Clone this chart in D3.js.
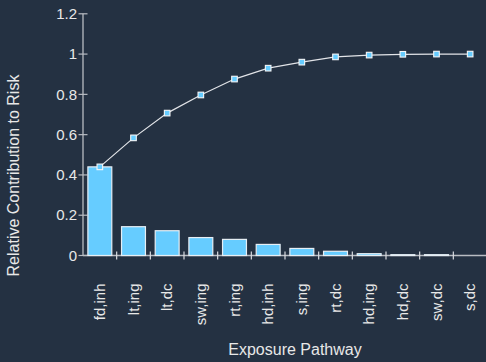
<!DOCTYPE html>
<html>
<head>
<meta charset="utf-8">
<script src="https://cdn.jsdelivr.net/npm/d3@7"></script>
<style>
  html, body { margin: 0; padding: 0; background: #243142; }
  svg { display: block; }
  text { font-family: "Liberation Sans", Arial, sans-serif; fill: #e8e8e8; }
</style>
</head>
<body>
<svg id="chart" width="486" height="362"></svg>
<script>
// Exposure pathways, ordered by contribution
const pathways = ["fd,inh", "lt,ing", "lt,dc", "sw,ing", "rt,ing", "hd,inh", "s,ing", "rt,dc", "hd,ing", "hd,dc", "sw,dc", "s,dc"];
// Relative contribution of each pathway
const contribution = [0.440, 0.143, 0.123, 0.089, 0.080, 0.055, 0.035, 0.021, 0.009, 0.004, 0.004, 0.000];
// Cumulative contribution
const cumulative = [0.440, 0.584, 0.707, 0.797, 0.876, 0.930, 0.960, 0.986, 0.995, 0.999, 1.000, 1.000];
// Y axis ticks
const yTicks = [0, 0.2, 0.4, 0.6, 0.8, 1, 1.2];

const svg = d3.select("#chart");
const axisColor = "#b8bcc2";
const barFill = "#66ccff";

const x = d3.scaleBand().domain(pathways).range([83, 487]).paddingInner(0.29).paddingOuter(0.145);
const y = d3.scaleLinear().domain([0, 1.2]).range([255.5, 13.8]);

// Y axis
const yAxis = svg.append("g").attr("transform", "translate(83,0)");
yAxis.append("line").attr("x1", 0).attr("x2", 0)
  .attr("y1", y(1.2)).attr("y2", y(0)).attr("stroke", axisColor).attr("stroke-width", 1.3);
yAxis.selectAll(".ytick").data(yTicks).join("line")
  .attr("x1", -4.5).attr("x2", 4.5)
  .attr("y1", d => y(d)).attr("y2", d => y(d))
  .attr("stroke", axisColor).attr("stroke-width", 1.2);
yAxis.selectAll(".ylab").data(yTicks).join("text")
  .attr("x", -6).attr("y", d => y(d)).attr("dy", "0.35em")
  .attr("text-anchor", "end").attr("font-size", 15)
  .text(d => d3.format("")(d));

// X axis
const xAxis = svg.append("g").attr("transform", `translate(0,${y(0)})`);
xAxis.append("line").attr("x1", 83).attr("x2", 486).attr("y1", 0).attr("y2", 0)
  .attr("stroke", axisColor).attr("stroke-width", 1.3);
const step = x.step();
const boundaries = pathways.slice(1).map(p => x(p) - x.paddingInner() * step / 2);
xAxis.selectAll(".xtick").data(boundaries).join("line")
  .attr("x1", d => d).attr("x2", d => d).attr("y1", -4).attr("y2", 4)
  .attr("stroke", "#d8dbe0").attr("stroke-width", 1.2);
xAxis.selectAll(".xlab").data(pathways).join("text")
  .attr("transform", d => `translate(${x(d) + x.bandwidth() / 2},28) rotate(-90)`)
  .attr("dy", "0.35em").attr("text-anchor", "end").attr("font-size", 15)
  .text(d => d);

// Bars
svg.append("g").selectAll("rect").data(pathways).join("rect")
  .attr("x", d => x(d))
  .attr("y", (d, i) => y(contribution[i]))
  .attr("width", x.bandwidth())
  .attr("height", (d, i) => y(0) - y(contribution[i]))
  .attr("fill", barFill).attr("stroke", "#e6eef4").attr("stroke-width", 1.2);

// Cumulative line
const line = d3.line().x((d, i) => x(pathways[i]) + x.bandwidth() / 2).y(d => y(d));
svg.append("path").datum(cumulative).attr("d", line)
  .attr("fill", "none").attr("stroke", "#e2e4e8").attr("stroke-width", 1.2);
svg.append("g").selectAll("rect").data(cumulative).join("rect")
  .attr("x", (d, i) => x(pathways[i]) + x.bandwidth() / 2 - 2.8)
  .attr("y", d => y(d) - 2.8)
  .attr("width", 5.6).attr("height", 5.6)
  .attr("fill", barFill).attr("stroke", "#f4f6f8").attr("stroke-width", 1.1);

// Axis titles
svg.append("text").attr("x", 295).attr("y", 355).attr("text-anchor", "middle")
  .attr("font-size", 16).text("Exposure Pathway");
svg.append("text").attr("transform", "translate(19,175.5) rotate(-90)")
  .attr("text-anchor", "middle").attr("font-size", 16)
  .text("Relative Contribution to Risk");
</script>
</body>
</html>
